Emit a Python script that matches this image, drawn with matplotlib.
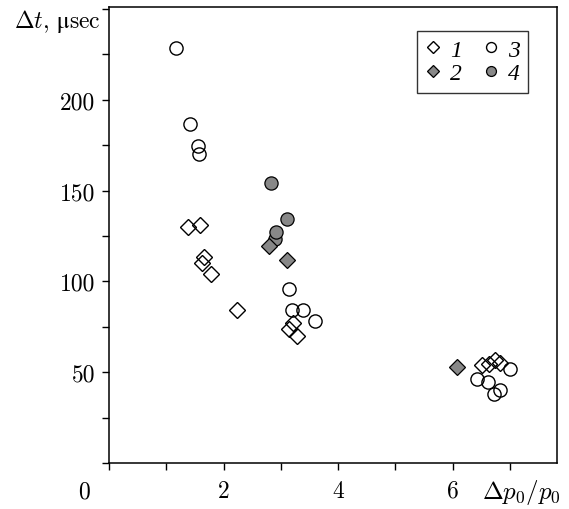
import matplotlib
matplotlib.use('Agg')
import matplotlib.pyplot as plt
from matplotlib.ticker import MultipleLocator

plt.rcParams['font.family'] = ['cmr10', 'DejaVu Serif']
plt.rcParams['mathtext.fontset'] = 'cm'
plt.rcParams['axes.unicode_minus'] = False

# series 1: open diamonds
x1 = [1.38, 1.59, 1.65, 1.63, 1.78, 2.23, 3.15, 3.22, 3.28, 6.52, 6.63, 6.74, 6.83]
y1 = [130, 131, 113.5, 110, 104, 84, 73.5, 77, 70, 54, 54.5, 56.5, 55]
# series 2: filled diamonds
x2 = [2.79, 3.11, 6.08]
y2 = [119.5, 112, 52.6]
# series 3: open circles
x3 = [1.17, 1.41, 1.56, 1.57, 3.14, 3.20, 3.38, 3.59, 6.43, 6.61, 6.72, 6.83, 7.0]
y3 = [228.5, 186.5, 174.5, 170, 96, 84, 84, 78, 46.5, 44.5, 38, 40, 52]
# series 4: filled circles
x4 = [2.89, 2.82, 3.10, 2.92]
y4 = [123.5, 154, 134.5, 127]

labels = ['1', '2', '3', '4']
xticks = [2, 4, 6]
yticks = [50, 100, 150, 200]

gray = '#888888'

fig = plt.figure(figsize=(5.69, 5.10), dpi=100)
ax = fig.add_axes([0.1916, 0.0902, 0.787, 0.894])

h3, = ax.plot(x3, y3, 'o', ms=9.5, mfc='none', mec='black', mew=1.0, label=labels[2])
h4, = ax.plot(x4, y4, 'o', ms=9.5, mfc=gray, mec='black', mew=0.9, label=labels[3])
h1, = ax.plot(x1, y1, 'D', ms=8.5, mfc='none', mec='black', mew=1.0, label=labels[0])
h2, = ax.plot(x2, y2, 'D', ms=8.5, mfc=gray, mec='black', mew=0.9, label=labels[1])

ax.set_xlim(0, 7.82)
ax.set_ylim(0, 251)
ax.set_xticks(xticks)
ax.set_yticks(yticks)
ax.xaxis.set_minor_locator(MultipleLocator(1))
ax.yaxis.set_minor_locator(MultipleLocator(25))
ax.tick_params(which='both', direction='out', length=5, width=1, labelsize=17)
ax.tick_params(axis='x', pad=7)
ax.tick_params(axis='y', pad=5)
for s in ax.spines.values():
    s.set_linewidth(1.1)

# origin label and axis titles placed at the corners
ax.text(-0.055, -0.062, '0', transform=ax.transAxes, ha='center', va='center', fontsize=17)
ax.text(1.01, -0.062, r'$\Delta p_0/p_0$', transform=ax.transAxes, ha='right', va='center', fontsize=18)
fig.text(0.025, 0.958, r'$\Delta t$, $\mathrm{μ}$sec', ha='left', va='center', fontsize=17)

leg = ax.legend(handles=[h1, h2, h3, h4], ncol=2, loc='upper right',
                bbox_to_anchor=(0.935, 0.948), borderaxespad=0, markerscale=0.75,
                prop={'family': 'Liberation Serif', 'style': 'italic', 'size': 17},
                frameon=True, fancybox=False, handlelength=0.7,
                handletextpad=0.35, columnspacing=0.9, labelspacing=0.1,
                borderpad=0.35)
leg.get_frame().set_edgecolor('black')
leg.get_frame().set_linewidth(1.0)

fig.savefig('out.png', dpi=100)
